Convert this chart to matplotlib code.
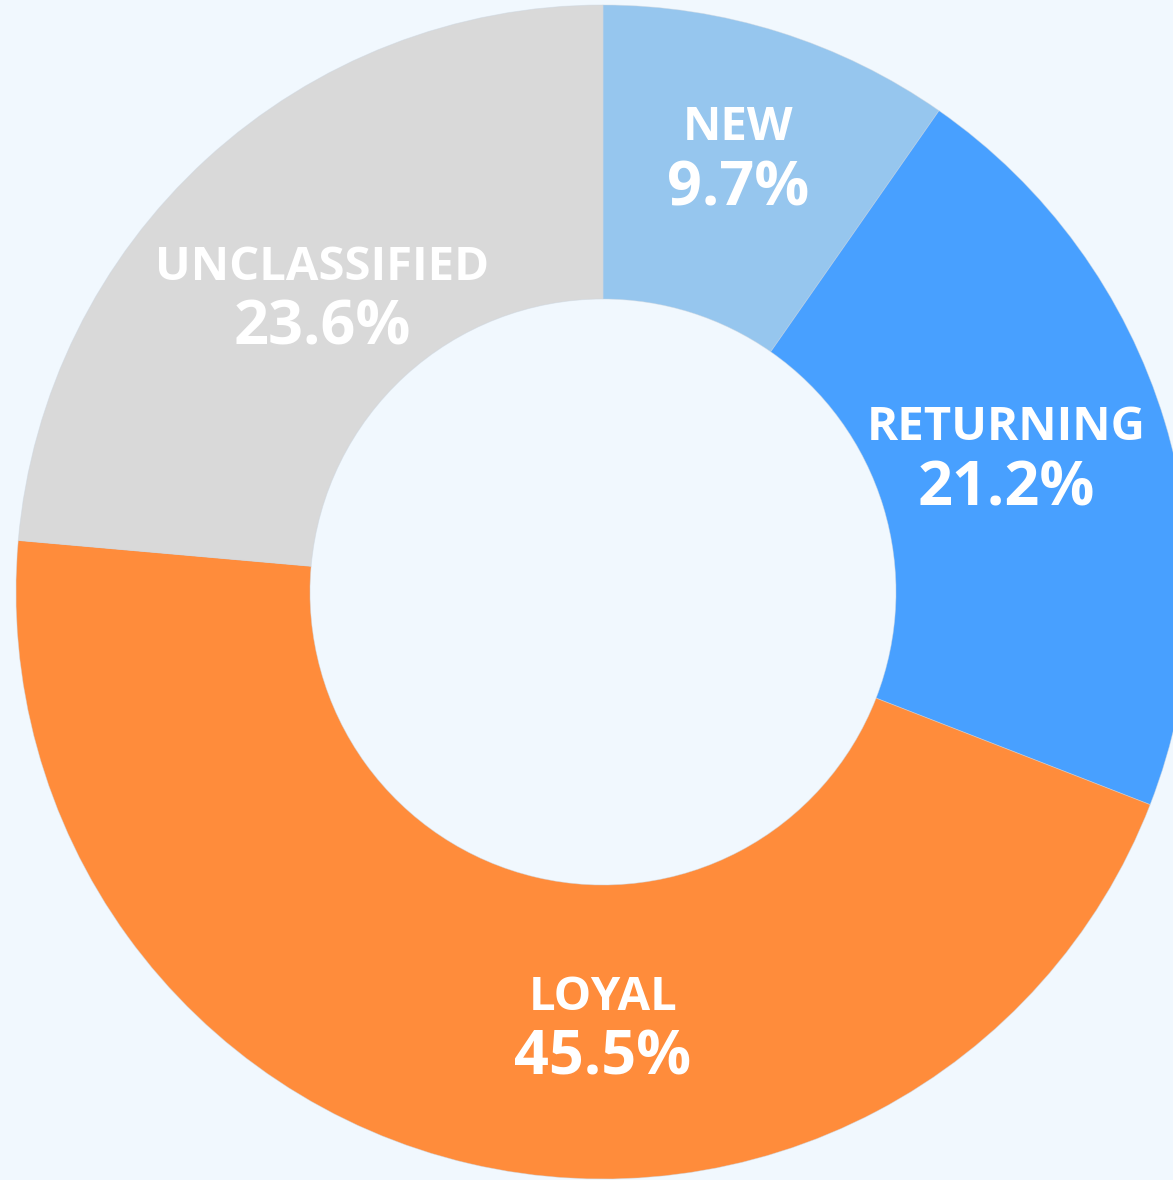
"""
Donut chart: visitor segments share.
"""
import matplotlib

matplotlib.use("Agg")
import matplotlib.pyplot as plt

SEGMENTS = ["NEW", "RETURNING", "LOYAL", "UNCLASSIFIED"]
SHARES = [9.7, 21.2, 45.5, 23.6]
COLORS = ["#96C6EE", "#48A0FF", "#FF8C3B", "#D9D9D9"]

BG = "#F1F8FE"
W, H = 1173, 1180
CX, CY = 603, H - 592
R_OUT = 587
R_IN = 293

# label anchor points (pixel coords, y from top)
LABEL_POS = [(738, 128), (1006, 428), (603, 997), (322, 267)]
PCT_DY = 62

fig = plt.figure(figsize=(W / 100, H / 100), dpi=100)
fig.patch.set_facecolor(BG)
ax = fig.add_axes([0, 0, 1, 1])
ax.set_facecolor(BG)

ax.pie(
    SHARES,
    colors=COLORS,
    startangle=90,
    counterclock=False,
    center=(CX, CY),
    radius=R_OUT,
    frame=True,
    wedgeprops=dict(width=R_OUT - R_IN, edgecolor=(0.8, 0.84, 0.88, 0.5), linewidth=0.6),
)

for name, val, (lx, ly) in zip(SEGMENTS, SHARES, LABEL_POS):
    ax.text(lx, H - ly, name, ha="center", va="center", color="white",
            fontsize=34, fontweight="bold", family=["Open Sans", "DejaVu Sans"])
    ax.text(lx, H - ly - PCT_DY, f"{val:.1f}%", ha="center", va="center", color="white",
            fontsize=44, fontweight="bold", family=["Open Sans", "DejaVu Sans"])

ax.set_xlim(0, W)
ax.set_ylim(0, H)
ax.set_aspect("equal")
ax.axis("off")

plt.savefig("out.png", dpi=100, facecolor=BG)
plt.close()
